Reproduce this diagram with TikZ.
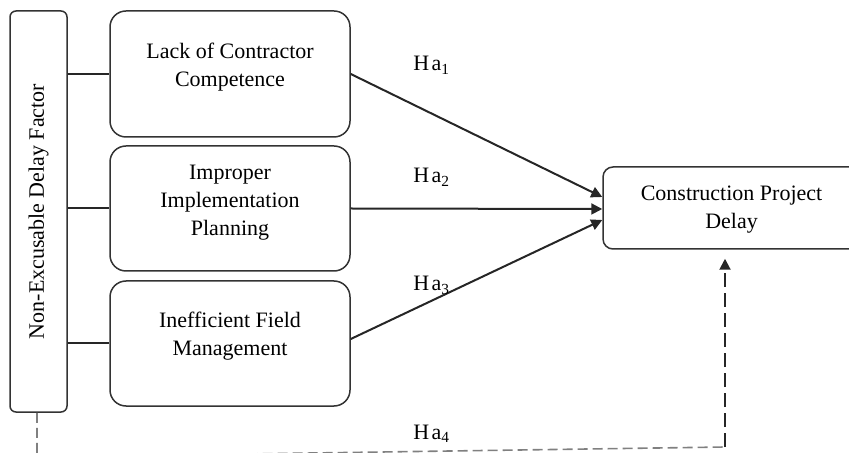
\documentclass[tikz,border=0pt]{standalone}
\usepackage{fontspec}
\setmainfont{Liberation Serif}
\usetikzlibrary{arrows.meta}
\begin{document}
\begin{tikzpicture}[x=0.5pt,y=-0.5pt,
  box/.style={draw=black!80, line width=0.75pt, rounded corners=8pt},
  sidebox/.style={draw=black!80, line width=0.75pt, rounded corners=3pt, minimum width=28.5pt, minimum height=200.5pt, inner sep=0pt},
  midbox/.style={box, minimum width=120pt, minimum height=62.5pt, inner sep=0pt},
  outbox/.style={box, rounded corners=5pt, minimum width=128.5pt, minimum height=41pt, inner sep=0pt},
  lbl/.style={font=\fontsize{11}{14}\selectfont, align=center, inner sep=0pt},
  link/.style={draw=black!85, line width=1pt},
  arr/.style={link, -{Triangle[length=5.5pt,width=5.5pt]}},
  hyp/.style={font=\fontsize{11}{13}\selectfont, anchor=base west, inner sep=0pt},
  dashlink/.style={draw=black!50, line width=0.8pt, dash pattern=on 5pt off 2.5pt},
  darkdash/.style={draw=black!85, line width=1pt, dash pattern=on 7pt off 3pt, -{Triangle[length=5.5pt,width=5.5pt]}}
]
\useasboundingbox (0,0) rectangle (849,453);
\clip (0,0) rectangle (849,453);

% boxes
\node[sidebox] (L) at (38.5,211.5) {};
\node[lbl, rotate=90] (Lt) at (L.center) {Non-Excusable Delay Factor};

\node[midbox, minimum height=63pt] (B1) at (230,74) {};
\node[midbox] (B2) at (230,208.5) {};
\node[midbox] (B3) at (230,343.5) {};
\node[outbox] (R) at (731.5,208) {};

\node[lbl] (T1) at (230,67) {Lack of Contractor\\Competence};
\node[lbl] (T2) at (230,202.5) {Improper\\Implementation\\Planning};
\node[lbl] (T3) at (230,336.5) {Inefficient Field\\Management};
\node[lbl] (TR) at (731.5,210) {Construction Project\\Delay};

% side connectors
\draw[link] (L.east |- B1.west) -- (B1.west);
\draw[link] (L.east |- B2.west) -- (B2.west);
\draw[link] (L.east |- B3.west) -- (B3.west);

% arrows
\draw[arr] (B1.east) -- ([yshift=5.5pt]R.west);
\draw[arr] (B2.east) -- ([yshift=-0.5pt]R.west);
\draw[arr] ([yshift=2.25pt]B3.east) -- ([yshift=-6pt]R.west);

% hypothesis labels
\node[hyp] (H1) at (413,71) {H\kern1.2pt a\textsubscript{1}};
\node[hyp] (H2) at (413,183) {H\kern1.2pt a\textsubscript{2}};
\node[hyp] (H3) at (413,291) {H\kern1.2pt a\textsubscript{3}};
\node[hyp] (H4) at (413,439) {H\kern1.2pt a\textsubscript{4}};

% dashed path
\coordinate (c1) at (37,457);
\coordinate (c2) at (725,447);
\draw[dashlink] ([xshift=-0.75pt]L.south) -- (c1) -- (c2);
\draw[darkdash, shorten >=4.5pt] (c2) -- (c2 |- R.south);
\end{tikzpicture}
\end{document}
